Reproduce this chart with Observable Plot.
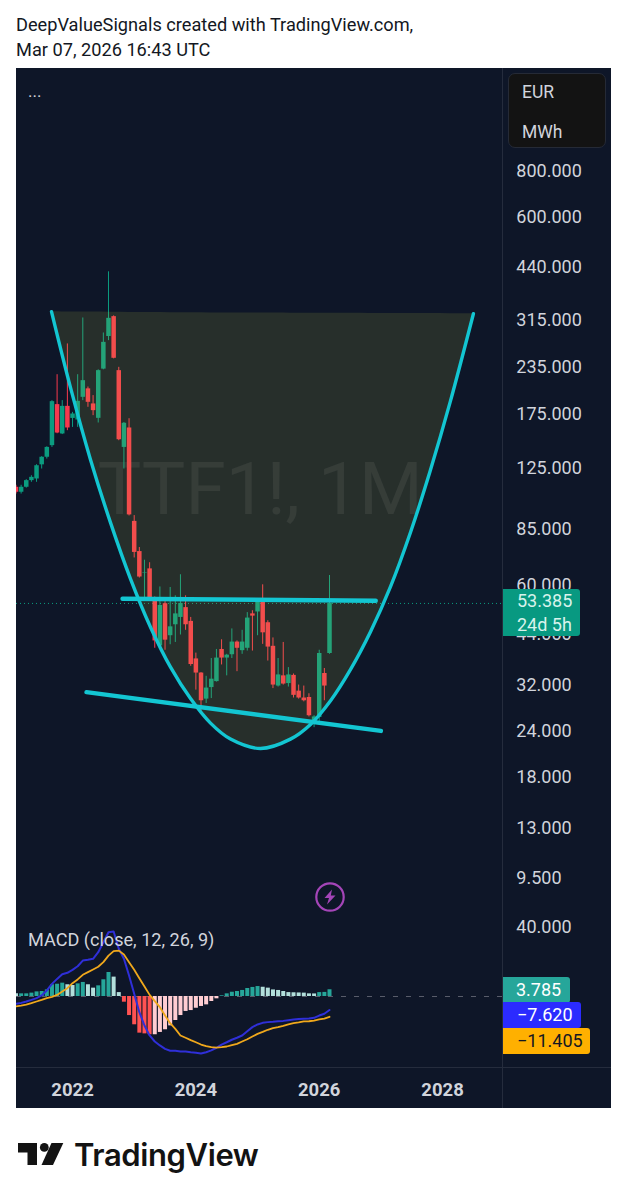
<!DOCTYPE html>
<html><head><meta charset="utf-8">
<script src="https://cdn.jsdelivr.net/npm/d3@7"></script>
<script src="https://cdn.jsdelivr.net/npm/@observablehq/plot@0.6"></script>
<style>
html,body{margin:0;padding:0;background:#fff;}
#page{position:relative;width:627px;height:1200px;overflow:hidden;font-family:Roboto,sans-serif;}
.abs{position:absolute;white-space:nowrap;}
#pane{left:16px;top:68px;width:595px;height:1040px;background:#0e1628;}
.lbl{position:absolute;left:503px;border-radius:0 3px 3px 0;font-size:18px;line-height:25px;box-sizing:border-box;color:#fff;}
</style></head><body>
<div id="page">
  <div class="abs" style="left:16px;top:12px;font-size:18.2px;line-height:25px;color:#131722;">DeepValueSignals created with TradingView.com,<br>Mar 07, 2026 16:43 UTC</div>
  <div class="abs" id="pane"></div>
  <div class="abs" style="left:502px;top:68px;width:1px;height:1040px;background:#252c3d;"></div>
  <div class="abs" style="left:16px;top:1067px;width:595px;height:1px;background:#252c3d;"></div>
  <div id="pricePlot" class="abs" style="left:16px;top:68px;"></div>
  <div id="macdPlot" class="abs" style="left:16px;top:887px;"></div>
  <div class="abs" style="left:28px;top:83px;font-size:17px;line-height:16px;color:#d1d4dc;">...</div>
  <div class="abs" style="left:508px;top:73px;width:98px;height:75px;background:#131313;border:1px solid #252a36;border-radius:7px;box-sizing:border-box;"></div>
  <div class="abs" style="left:522px;top:81px;font-size:17.5px;line-height:22px;color:#d1d4dc;">EUR</div>
  <div class="abs" style="left:522px;top:121px;font-size:17.5px;line-height:22px;color:#d1d4dc;">MWh</div>
  <div class="abs" style="left:28px;top:929px;font-size:18.1px;line-height:22px;color:#d1d4dc;">MACD (close, 12, 26, 9)</div>
  <div class="lbl" style="top:589px;width:77px;height:47px;background:#089981;color:#d8f3ec;padding-left:14px;line-height:23.5px;">53.385<br>24d 5h</div>
  <div class="lbl" style="top:977px;width:67px;height:26px;background:#26a69a;padding-left:13px;">3.785</div>
  <div class="lbl" style="top:1002px;width:78px;height:26px;background:#2b2bff;padding-left:14px;">−7.620</div>
  <div class="lbl" style="top:1028px;width:87px;height:26px;background:#ffb000;color:#131722;padding-left:14px;">−11.405</div>
  <svg class="abs" style="left:314px;top:881px;" width="32" height="32" viewBox="0 0 32 32">
    <circle cx="16" cy="16" r="13.7" fill="none" stroke="#a445b8" stroke-width="2.2"/>
    <path d="M18 8.5 L10.5 17 L15 17 L13 23.5 L21.5 14.5 L16.8 14.5 Z" fill="#a445b8"/>
  </svg>
  <svg class="abs" style="left:18px;top:1143px;" width="46" height="23" viewBox="0 0 46 23">
    <path d="M0 0H19V22H9.5V9.5H0Z" fill="#131313"/>
    <circle cx="26.3" cy="4.4" r="4.4" fill="#131313"/>
    <path d="M33.5 0H45.3L35 22H23.5Z" fill="#131313"/>
  </svg>
  <div class="abs" style="left:74px;top:1134px;font-family:Inter,sans-serif;font-weight:600;font-size:31px;line-height:42px;letter-spacing:-0.4px;color:#131313;">TradingView</div>
</div>
<script>
// Month index: 0 = Jan 2022
const months = d3.range(-11, 51);
const opens = [110.6,107.2,110.6,115.3,116.5,127.3,133.5,143.6,185.7,154.5,183.7,
  170.3,168.6,194.4,205,186.5,170.4,232,284.6,322.4,229.8,142,160.4,89.3,73.9,64.5,66.3,54.9,40.9,53.3,43.6,46.7,48.9,52,47.7,37.7,34.5,29.3,31.5,32.7,40,37.9,38.7,41.9,39.7,40.3,50,50.6,54.9,47.3,40.8,31.8,33.9,32.3,34,30.8,29.5,29.6,25.2,26.1,34.4,39];
const highs = [112,112,116,118.9,127.4,134,142.6,190.4,224,190.4,271.7,
  176.9,224,319.7,207.4,196.5,231,291,427,324,234.6,166,170,92.6,75.8,70,68.9,55.6,59.2,54,59,56,63.9,56,48.9,39.1,34.6,33.8,37.8,40,42.5,38.8,45.5,42.2,45.1,50.4,51,55,60,47.9,43,37.8,41.8,35.7,34.3,32,31.8,30.3,26.4,39.8,35.5,63.6];
const lows = [106,106,110,114.1,114.1,124,132,142,154.7,153.9,157.7,
  161,161,190.4,182.6,173.3,165.5,231,277.4,247.4,148.1,124,92.4,71,62.6,55.4,54.5,40.3,40.6,39.8,41.2,41.8,43.8,45.1,36,31,27.2,28.5,29.4,32.6,36.3,33.9,37.8,34.8,38.8,39.6,39.6,43.6,41.3,37.2,31.3,31.6,32,31.6,29.5,29.3,28.8,26.2,24.5,25.1,29,38.8];
const closes = [107.2,110.6,115.3,117.7,126.6,133.5,142,189.2,155.4,183.7,160.4,
  175.1,189.6,215.8,188.4,178.8,229.8,274.4,319,248.3,149,165.2,93,73.5,63,64.7,54.9,42.2,52.7,42.4,46.1,50,53.4,46.7,36.4,34.5,29,31.4,33.2,37.9,37.9,38.6,41.9,40.3,41.9,48.7,49.3,54.3,44.4,40.6,32,34.1,32.2,34.1,30,29.5,29,26.4,26.2,39,31.8,53.385];
const macdLine = [-4.1,-3.6,-2.8,-1.9,-0.9,0.6,3.4,7.1,9.9,12.5,13.3,
  15,17,20.2,20.6,21.2,24.9,30.5,36.1,36.5,26.8,21.2,11.8,1.5,-8.8,-16.3,-21.9,-25.3,-27.5,-29.4,-30.5,-30.5,-30.9,-30.9,-31.3,-31.6,-32,-31.3,-30.3,-28.8,-27,-25.7,-24.3,-23.2,-21.9,-19.5,-17.2,-15.7,-14.8,-14.4,-14.2,-13.9,-13.7,-13.3,-12.9,-12.7,-12.5,-12.4,-12,-10.7,-9.7,-7.62];
const signalLine = [-5.6,-5.1,-4.5,-3.7,-2.8,-1.9,-0.9,-0.2,0.9,2.8,4.7,
  7.5,9.6,12.2,13.7,15.2,16.7,19.3,23,25.5,25.8,23.6,19.3,15,10.3,5.6,0.9,-2.6,-6,-10.7,-15,-18.2,-21.9,-23.2,-24.5,-25.7,-27,-27.9,-28.5,-28.7,-28.5,-28.1,-27.3,-26.6,-25.3,-24,-22.5,-21,-19.9,-18.7,-17.8,-17.2,-16.5,-15.7,-15,-14.6,-14,-13.9,-13.5,-12.9,-12.4,-11.405];
const histogram = [1.5,1.5,1.5,1.9,2.6,2.8,3.7,6.6,6.9,7.5,6.6,6.2,7.1,7.9,6.6,4.7,6,9.4,13.5,10.9,2.2,
  -3.2,-10.7,-15.9,-20.6,-21,-21.5,-21.5,-20.2,-18.7,-16.5,-13.5,-10.7,-8.4,-7.9,-6.6,-5.6,-4.7,-2.8,-1.3,
  0.4,1.5,2.4,2.8,3.4,4.5,5.1,5.6,5.2,4.7,3.7,3.4,2.8,2.2,2.1,2,1.9,1.5,1.45,2.2,2.3,3.785];
// Hand-drawn cup
const cupMonths = [-4.09,-0.39,3.5,7.39,11.28,15.18,19.07,22.96,26.85,30.74,36.58,42.4,46.3,50.2,54.1,57.98,61.87,65.8,69.6,73.5,78];
const cupPrices = [332.6,206.5,131.5,88.6,62.3,46,35.8,29.4,25.2,22.8,21.5,22.8,25,29,35.3,44.7,59.3,83.7,122.7,189.2,328.4];
const cupChord = [332.6,332,331.7,331.4,331.1,330.8,330.5,330.2,330,329.8,329.6,329.4,329.3,329.2,329.1,329,328.9,328.8,328.7,328.5,328.4];
// Hand-drawn trend lines
const resistMonths = [9.73,59.0], resistPrices = [55,54.3];
const supportMonths = [2.72,60.0], supportPrices = [30.6,24];
const priceTicks = [800,600,440,315,235,175,125,85,60,44,32,24,18,13,9.5];
const macdTicks = [40];
const yearTicks = [0,24,48,72], yearLabels = ["2022","2024","2026","2028"];
const lastPrice = 53.385;

const UP="#0b9c80", DOWN="#f7394e", CYAN="#13c6d2";
const candles = months.map((t,i)=>({t,o:opens[i],h:highs[i],l:lows[i],c:closes[i],col:closes[i]>=opens[i]?UP:DOWN}));
const cup = cupMonths.map((t,i)=>({t,p:cupPrices[i],ch:cupChord[i]}));
const xDomain = [-10.9,83.66];
const axisT = 86.35; // month position where the right-hand scale's labels start
const fmt = d3.format(".3f");

const price = Plot.plot({
  width:595,height:849,marginLeft:0,marginRight:109,marginTop:0,marginBottom:0,
  style:{background:"transparent",fontFamily:"Roboto,sans-serif",fontSize:"18px"},
  x:{domain:xDomain,axis:null},
  y:{type:"log",domain:[7.45,1528],axis:null},
  color:{type:"identity"},
  marks:[
    Plot.text(["TTF1!, 1M"],{x:[4.9],y:[108],text:d=>d,textAnchor:"start",fontSize:73,fill:"#ffffff",fillOpacity:0.07,fontFamily:"Roboto,sans-serif"}),
    Plot.ruleY([lastPrice],{stroke:UP,strokeDasharray:"1 3",strokeWidth:1}),
    Plot.ruleX(candles,{x:"t",y1:"l",y2:"h",stroke:"col",strokeWidth:1,clip:true}),
    Plot.ruleX(candles,{x:"t",y1:"o",y2:"c",stroke:"col",strokeWidth:4.5,clip:true}),
    Plot.areaY(cup,{x:"t",y1:"p",y2:"ch",curve:"catmull-rom",fill:"#ced647",fillOpacity:0.13}),
    Plot.line(cup,{x:"t",y:"p",curve:"catmull-rom",stroke:CYAN,strokeWidth:3.4}),
    Plot.line(resistMonths.map((t,i)=>({t,p:resistPrices[i]})),{x:"t",y:"p",stroke:CYAN,strokeWidth:4.4}),
    Plot.line(supportMonths.map((t,i)=>({t,p:supportPrices[i]})),{x:"t",y:"p",stroke:CYAN,strokeWidth:4.4}),
    Plot.text(priceTicks,{x:axisT,y:d=>d,text:d=>fmt(d),textAnchor:"start",fontSize:18,fill:"#d1d4dc"})
  ]
});
document.getElementById("pricePlot").append(price);

const macdRows = months.map((t,i)=>{
  const v=histogram[i], prev=i?histogram[i-1]:Infinity;
  const col = v>=0 ? (v>=prev?"#26a69a":"#b2dfdb") : (v<prev?"#ff5252":"#ffcdd2");
  return {t,m:macdLine[i],s:signalLine[i],v,col};
});
const macd = Plot.plot({
  width:595,height:221,marginLeft:0,marginRight:109,marginTop:30,marginBottom:41,
  style:{background:"transparent",fontFamily:"Roboto,sans-serif",fontSize:"18px"},
  x:{domain:xDomain,axis:null},
  y:{domain:[-39.9,44.4],axis:null},
  color:{type:"identity"},
  marks:[
    Plot.ruleY([0],{stroke:"#787b86",strokeOpacity:0.7,strokeDasharray:"5 8",strokeWidth:1}),
    Plot.ruleX(macdRows,{x:"t",y1:0,y2:"v",stroke:"col",strokeWidth:4,clip:true}),
    Plot.line(macdRows,{x:"t",y:"m",stroke:"#2f2fd8",strokeWidth:2,clip:true}),
    Plot.line(macdRows,{x:"t",y:"s",stroke:"#f0a81c",strokeWidth:1.8,clip:true}),
    Plot.text(macdTicks,{x:axisT,y:d=>d,text:d=>fmt(d),textAnchor:"start",fontSize:18,fill:"#d1d4dc",dy:2}),
    Plot.axisX({anchor:"bottom",ticks:yearTicks,tickSize:0,tickPadding:15,fontSize:18.5,fontWeight:"bold",
      fill:"#d1d4dc",tickFormat:d=>yearLabels[yearTicks.indexOf(d)],label:null})
  ]
});
document.getElementById("macdPlot").append(macd);
</script>
</body></html>
